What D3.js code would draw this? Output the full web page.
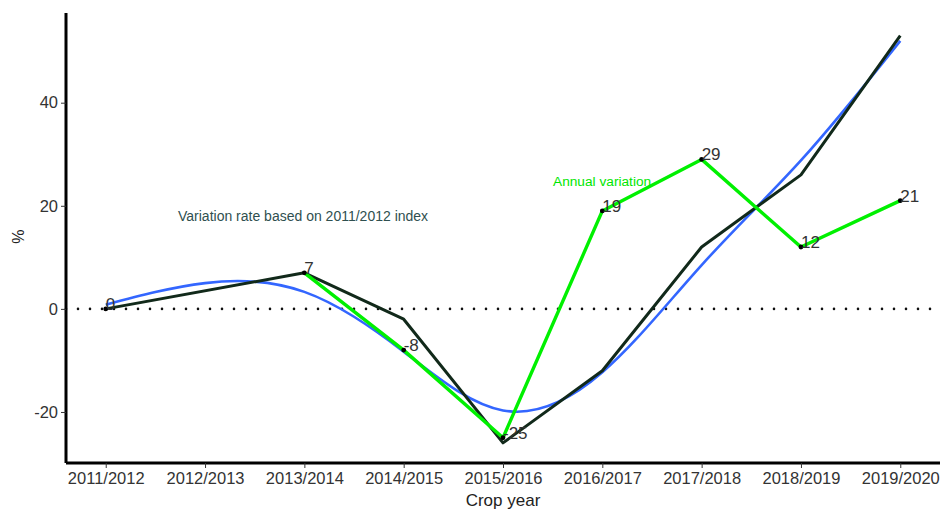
<!DOCTYPE html>
<html>
<head>
<meta charset="utf-8">
<script src="https://cdn.jsdelivr.net/npm/d3@7"></script>
<style>
  body { margin: 0; background: #fff; }
  svg text { font-family: "Liberation Sans", Arial, sans-serif; }
</style>
</head>
<body>
<div id="chart"></div>
<script>
const margin = { top: 13, right: 3, bottom: 47, left: 66 };
const W = 943, H = 510;
const width = W - margin.left - margin.right;
const height = H - margin.top - margin.bottom;

// crop years on the x axis
const cropYears = ['2011/2012', '2012/2013', '2013/2014', '2014/2015', '2015/2016',
                   '2016/2017', '2017/2018', '2018/2019', '2019/2020'];
// variation rate based on 2011/2012 index (dark line)
const indexVariation = [0, null, 7, -2, -26, -12, 12, 26, 53];
// annual variation (green line, labelled points)
const annualVariation = [0, null, 7, -8, -25, 19, 29, 12, 21];
// smoothed trend (blue curve), read at each crop year
const trendValues = [0.8, 5.0, 3.3, -8.3, -19.7, -12.3, 8.5, 28.8, 52];
const yTicks = [-20, 0, 20, 40];

const svg = d3.select('#chart')
    .append('svg')
    .attr('width', W)
    .attr('height', H)
    .append('g')
    .attr('transform', `translate(${margin.left},${margin.top})`);

const xScale = d3.scaleLinear()
    .domain([-0.4, cropYears.length - 1 + 0.4])
    .range([0, width]);

const yScale = d3.scaleLinear()
    .domain([-29.9, 57.4])
    .range([height, 0]);

// zero reference line
svg.append('line')
    .attr('x1', 0)
    .attr('x2', width)
    .attr('y1', yScale(0))
    .attr('y2', yScale(0))
    .attr('stroke', '#111')
    .attr('stroke-width', 2.6)
    .attr('stroke-linecap', 'round')
    .attr('stroke-dasharray', '0,12');

const toPoints = arr => arr.map((v, i) => ({ i, v }));

// blue smoothed curve
svg.append('path')
    .datum(toPoints(trendValues))
    .attr('fill', 'none')
    .attr('stroke', '#3366ff')
    .attr('stroke-width', 2.6)
    .attr('d', d3.line()
        .x(d => xScale(d.i))
        .y(d => yScale(d.v))
        .curve(d3.curveNatural));

// index line (missing year skipped)
svg.append('path')
    .datum(toPoints(indexVariation).filter(d => d.v !== null))
    .attr('fill', 'none')
    .attr('stroke', '#11291a')
    .attr('stroke-width', 3)
    .attr('stroke-linejoin', 'round')
    .attr('d', d3.line()
        .x(d => xScale(d.i))
        .y(d => yScale(d.v)));

// annual variation line
svg.append('path')
    .datum(toPoints(annualVariation))
    .attr('fill', 'none')
    .attr('stroke', '#00f000')
    .attr('stroke-width', 3.4)
    .attr('stroke-linejoin', 'round')
    .attr('d', d3.line()
        .defined(d => d.v !== null)
        .x(d => xScale(d.i))
        .y(d => yScale(d.v)));

const annualPts = toPoints(annualVariation).filter(d => d.v !== null);

svg.selectAll('circle.pt')
    .data(annualPts)
    .join('circle')
    .attr('class', 'pt')
    .attr('cx', d => xScale(d.i))
    .attr('cy', d => yScale(d.v))
    .attr('r', 2.4)
    .attr('fill', '#000');

svg.selectAll('text.lbl')
    .data(annualPts)
    .join('text')
    .attr('class', 'lbl')
    .attr('x', d => xScale(d.i))
    .attr('y', d => yScale(d.v) + 1)
    .attr('font-size', 17)
    .attr('fill', '#333')
    .text(d => d.v);

// annotations
svg.append('text')
    .attr('x', 178 - margin.left)
    .attr('y', 221 - margin.top)
    .attr('font-size', 14)
    .attr('fill', '#2f4f4f')
    .text('Variation rate based on 2011/2012 index');

svg.append('text')
    .attr('x', 553 - margin.left)
    .attr('y', 186 - margin.top)
    .attr('font-size', 13.7)
    .attr('fill', '#00e600')
    .text('Annual variation');

// axes
const xAxis = svg.append('g')
    .attr('transform', `translate(0,${height})`)
    .call(d3.axisBottom(xScale)
        .tickValues(d3.range(cropYears.length))
        .tickFormat(i => cropYears[i])
        .tickSize(5)
        .tickPadding(4));

const yAxis = svg.append('g')
    .call(d3.axisLeft(yScale)
        .tickValues(yTicks)
        .tickFormat(d => String(d))
        .tickSize(5)
        .tickPadding(3));

[xAxis, yAxis].forEach(ax => {
    ax.select('.domain').attr('stroke', '#000').attr('stroke-width', 3);
    ax.selectAll('.tick line').attr('stroke', '#333').attr('stroke-width', 1);
    ax.selectAll('.tick text')
        .attr('font-size', 16.5)
        .attr('fill', '#333')
        .attr('font-family', '"Liberation Sans", Arial, sans-serif');
});
xAxis.select('.domain').attr('d', `M0,0H${width}`);
yAxis.select('.domain').attr('d', `M0,${height}V0`);

// axis titles
svg.append('text')
    .attr('x', width / 2 + 0)
    .attr('y', height + 43)
    .attr('text-anchor', 'middle')
    .attr('font-size', 17)
    .attr('fill', '#222')
    .text('Crop year');

svg.append('text')
    .attr('transform', `translate(${-42},${yScale(14)}) rotate(-90)`)
    .attr('text-anchor', 'middle')
    .attr('font-size', 16)
    .attr('fill', '#222')
    .text('%');
</script>
</body>
</html>
